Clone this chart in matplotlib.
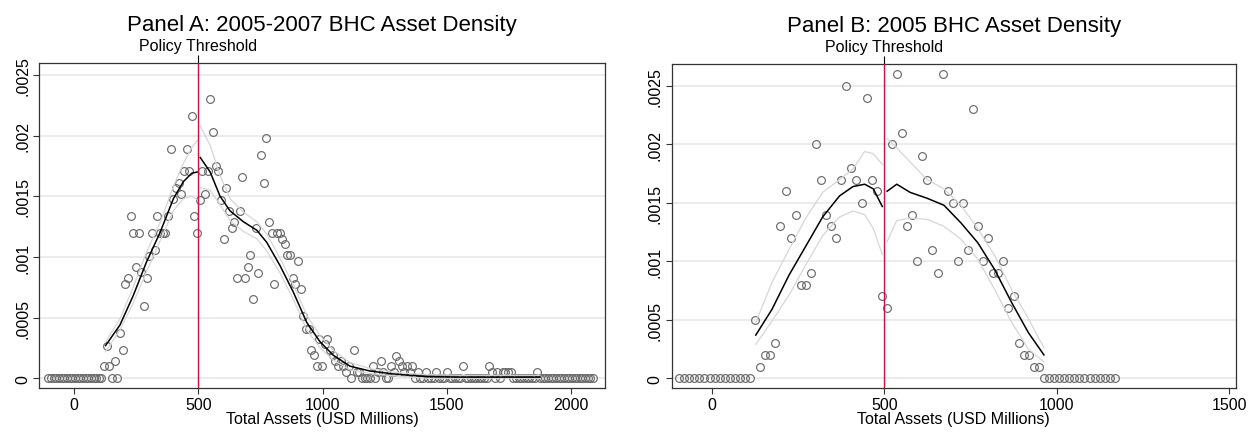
import numpy as np
import matplotlib.pyplot as plt

plt.rcParams['font.family'] = ['Liberation Sans', 'DejaVu Sans']

threshold = 500

# ---- Panel A: 2005-2007, bin width ~10.7, bins indexed from the threshold ----
a_bin_width = 10.7
a_first_bin = -57
a_zeros_left = [0, 0, 0, 0, 0, 0, 0, 0, 0, 0, 0, 0, 0, 0, 0, 0, 0, 0, 0, 0, 0]
a_left = [0.0001, 0.00027, 0.0001, 0, 0.00014, 0, 0.00037, 0.00023, 0.00078, 0.00083,
          0.00134, 0.0012, 0.00092, 0.0012, 0.00088, 0.0006, 0.00083, 0.00101, 0.0012, 0.00106,
          0.00134, 0.0012, 0.0012, 0.0012, 0.00134, 0.00189, 0.00148, 0.00157, 0.00161, 0.00152,
          0.00171, 0.00189, 0.00171, 0.00216, 0.00134, 0.0012]
a_right = [0.00147, 0.00171, 0.00152, 0.00171, 0.0023, 0.00203, 0.00175, 0.00171, 0.00147, 0.00115,
           0.00157, 0.00138, 0.00124, 0.00129, 0.00083, 0.00138, 0.00166, 0.00083, 0.00092, 0.00102,
           0.00065, 0.00124, 0.00087, 0.00184, 0.00161, 0.00198, 0.00129, 0.0012, 0.00078, 0.0012,
           0.0012, 0.00115, 0.00111, 0.00102, 0.00102, 0.00083, 0.00078, 0.00097, 0.00074, 0.00051,
           0.00041, 0.00041, 0.00023, 0.00019, 0.0001, 0.00032, 0.0001, 0.00028, 0.00032, 0.00023,
           0.00019, 0.00014, 0.0001, 0.00014, 0.0001, 0.00005, 0.0001, 0, 0.00023, 0.00005,
           0.00005, 0, 0, 0, 0, 0.0001, 0, 0.00005, 0.00014, 0.00005,
           0, 0, 0.0001, 0.00005, 0.00018, 0.00014, 0.0001, 0.00005, 0.0001, 0.00005,
           0.0001, 0, 0.00005, 0, 0, 0.00005, 0, 0, 0, 0.00005,
           0, 0, 0, 0.00005, 0, 0, 0, 0, 0, 0.0001,
           0, 0, 0, 0, 0, 0, 0, 0, 0, 0.0001,
           0.00005, 0, 0.00005, 0, 0.00005, 0.00005, 0.00005, 0.00005, 0, 0,
           0, 0, 0, 0, 0, 0, 0, 0.00005]
a_zeros_right = [0, 0, 0, 0, 0, 0, 0, 0, 0, 0, 0, 0, 0, 0, 0, 0, 0, 0, 0, 0, 0]

a_fit_left_x = [126, 184, 237, 291, 345, 399, 439, 473, 495]
a_fit_left = [0.00027, 0.00044, 0.00068, 0.00096, 0.0012, 0.00148, 0.00162, 0.00169, 0.0017]
a_fit_left_hi = [0.0003, 0.00049, 0.00075, 0.00104, 0.00128, 0.00158, 0.00177, 0.0019, 0.00196]
a_fit_left_lo = [0.00022, 0.0004, 0.00062, 0.00088, 0.00113, 0.00138, 0.00148, 0.0015, 0.00147]
a_fit_right_x = [507, 547, 587, 627, 681, 735, 775, 828, 882, 936, 990, 1043, 1110, 1191,
                 1285, 1419, 1554, 1700, 1875]
a_fit_right = [0.00182, 0.0017, 0.0015, 0.00138, 0.00129, 0.00122, 0.00112, 0.00093, 0.00071,
               0.00046, 0.0003, 0.00019, 0.0001, 0.00006, 0.000036, 0.000014, 0.00001, 0.00001,
               0.00001]
a_fit_right_hi = [0.00208, 0.00192, 0.00167, 0.00148, 0.00137, 0.00129, 0.00119, 0.00099,
                  0.00077, 0.00052, 0.00035, 0.00023, 0.00013, 0.00008, 0.00005, 0.00003,
                  0.000025, 0.000025, 0.000025]
a_fit_right_lo = [0.00157, 0.00155, 0.00143, 0.0013, 0.00121, 0.00115, 0.00105, 0.00087, 0.00065,
                  0.0004, 0.00025, 0.00015, 0.00007, 0.00004, 0.00002, 0.0, 0.0, 0.0, 0.0]

# ---- Panel B: 2005, bin width ~14.7 ----
b_bin_width = 14.7
b_first_bin = -41
b_zeros_left = [0, 0, 0, 0, 0, 0, 0, 0, 0, 0, 0, 0, 0, 0, 0]
b_left = [0.0005, 0.0001, 0.0002, 0.0002, 0.0003, 0.0013, 0.0016, 0.0012, 0.0014, 0.0008,
          0.0008, 0.0009, 0.002, 0.0017, 0.0014, 0.0013, 0.0012, 0.0017, 0.0025, 0.0018,
          0.0017, 0.0015, 0.0024, 0.0017, 0.0016, 0.0007]
b_right = [0.0006, 0.002, 0.0026, 0.0021, 0.0013, 0.0014, 0.001, 0.0019, 0.0017, 0.0011,
           0.0009, 0.0026, 0.0016, 0.0015, 0.001, 0.0015, 0.0011, 0.0023, 0.0013, 0.001,
           0.0012, 0.0009, 0.0009, 0.001, 0.0006, 0.0007, 0.0003, 0.0002, 0.0002, 0.0001,
           0.0001]
b_zeros_right = [0, 0, 0, 0, 0, 0, 0, 0, 0, 0, 0, 0, 0, 0, 0]

b_fit_left_x = [127, 174, 223, 272, 321, 370, 409, 443, 468, 494]
b_fit_left = [0.00037, 0.00059, 0.00088, 0.00113, 0.00138, 0.00156, 0.00164, 0.00166, 0.00162,
              0.00147]
b_fit_left_hi = [0.00048, 0.00082, 0.0011, 0.00137, 0.00159, 0.00170, 0.00179, 0.00194, 0.00192,
                 0.00183]
b_fit_left_lo = [0.00029, 0.00049, 0.00071, 0.00097, 0.00122, 0.00138, 0.00143, 0.0014, 0.00128,
                 0.00106]
b_fit_right_x = [508, 536, 575, 624, 673, 722, 771, 820, 869, 918, 963]
b_fit_right = [0.0016, 0.00166, 0.00159, 0.00154, 0.00148, 0.00133, 0.00116, 0.00093, 0.00065,
               0.00039, 0.0002]
b_fit_right_hi = [0.00205, 0.00197, 0.00185, 0.0017, 0.00162, 0.00148, 0.00128, 0.00105,
                  0.00076, 0.00051, 0.00026]
b_fit_right_lo = [0.00117, 0.00135, 0.00137, 0.00136, 0.0013, 0.00119, 0.00102, 0.00076,
                  0.00048, 0.00025, 0.00014]

y_ticks = [0, 0.0005, 0.001, 0.0015, 0.002, 0.0025]
y_tick_labels = ['0', '.0005', '.001', '.0015', '.002', '.0025']

fig = plt.figure(figsize=(12.55, 4.35), dpi=100)
ax_a = fig.add_axes([0.0311, 0.105, 0.451, 0.747])
ax_b = fig.add_axes([0.5352, 0.105, 0.4496, 0.745])


def draw_panel(ax, title, width, first_bin, parts, fits, xlim, ylim, xticks):
    heights = np.concatenate(parts)
    idx = np.arange(first_bin, first_bin + len(heights))
    centers = threshold + width * (idx + 0.5)

    for yt in y_ticks:
        ax.axhline(yt, color='#e9e9e9', lw=1.3, zorder=0)

    ax.plot(centers, heights, linestyle='none', marker='o', markersize=5.6,
            markerfacecolor='none', markeredgecolor='#6a6a6a', markeredgewidth=0.85, zorder=2)

    for fx, fy, fhi, flo in fits:
        ax.plot(fx, fhi, color='#d6d6d6', lw=0.9, zorder=3)
        ax.plot(fx, flo, color='#d6d6d6', lw=0.9, zorder=3)
        ax.plot(fx, fy, color='black', lw=1.1, zorder=4)

    ax.axvline(threshold, color='#d0103f', lw=1.0, zorder=5)

    ax.set_xlim(*xlim)
    ax.set_ylim(*ylim)
    ax.set_xticks(xticks)
    ax.set_yticks(y_ticks)
    ax.set_yticklabels(y_tick_labels, rotation=90, va='center')
    ax.tick_params(axis='both', labelsize=11.5, length=4, width=0.8, color='#333333', pad=2.5)
    ax.set_xlabel('Total Assets (USD Millions)', fontsize=11.5, labelpad=-1)
    for sp in ax.spines.values():
        sp.set_color('#333333')
        sp.set_linewidth(0.9)

    top = ax.secondary_xaxis('top')
    top.set_xticks([threshold], ['Policy Threshold'])
    top.tick_params(length=6, width=0.8, labelsize=11.5, pad=1.5)
    top.spines['top'].set_visible(False)

    ax.set_title(title, fontsize=16, pad=24)


draw_panel(ax_a, 'Panel A: 2005-2007 BHC Asset Density', a_bin_width, a_first_bin,
           [a_zeros_left, a_left, a_right, a_zeros_right],
           [(a_fit_left_x, a_fit_left, a_fit_left_hi, a_fit_left_lo),
            (a_fit_right_x, a_fit_right, a_fit_right_hi, a_fit_right_lo)],
           (-142, 2137), (-0.0000824, 0.002595), [0, 500, 1000, 1500, 2000])

draw_panel(ax_b, 'Panel B: 2005 BHC Asset Density', b_bin_width, b_first_bin,
           [b_zeros_left, b_left, b_right, b_zeros_right],
           [(b_fit_left_x, b_fit_left, b_fit_left_hi, b_fit_left_lo),
            (b_fit_right_x, b_fit_right, b_fit_right_hi, b_fit_right_lo)],
           (-117, 1520), (-0.0000855, 0.002686), [0, 500, 1000, 1500])

fig.savefig('out.png', dpi=100)
